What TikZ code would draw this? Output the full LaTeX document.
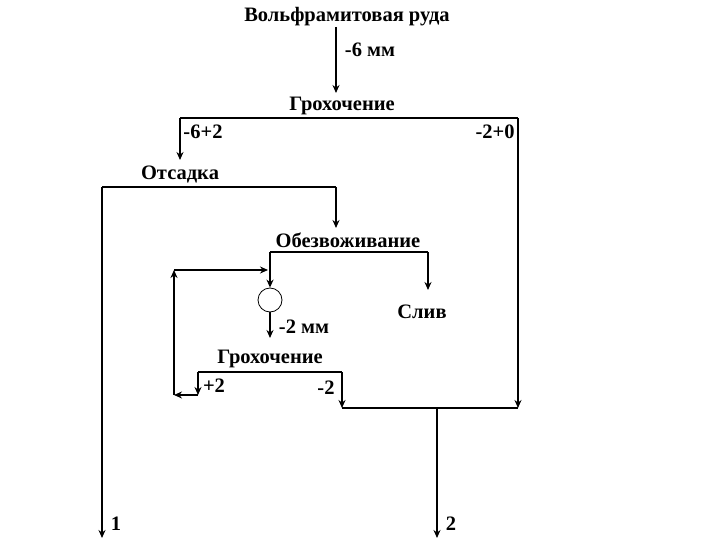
\documentclass[tikz,border=0pt]{standalone}
\usepackage{fontspec}
\setmainfont{Liberation Serif}
\usetikzlibrary{arrows.meta}
\begin{document}
\begin{tikzpicture}[x=1pt,y=-1pt,
  lbl/.style={font=\bfseries\fontsize{20.5}{23}\selectfont,inner sep=0},
  ln/.style={line width=1.5pt},
  ar/.style={ln,-{Stealth[length=8pt,width=7pt]}}]
\useasboundingbox (0,0) rectangle (720,540);
\node[lbl] (ore) at (347,17) {Вольфрамитовая руда};
\node[lbl] (s1) at (342,106) {Грохочение};
\node[lbl] (jig) at (180,174) {Отсадка};
\node[lbl] (dew) at (348,240) {Обезвоживание};
\node[lbl] (sliv) at (422,312) {Слив};
\node[lbl] (s2) at (270,359) {Грохочение};
\node[draw,circle,minimum size=24pt,inner sep=0,line width=0.8pt] (c) at (270,300) {};
\node[lbl] at (370,50) {-6 мм};
\node[lbl] at (203,132) {-6+2};
\node[lbl] at (495,132) {-2+0};
\node[lbl] at (304,327) {-2 мм};
\node[lbl] at (214,386) {+2};
\node[lbl] at (326,388) {-2};
\node[lbl] (o1) at (116,524) {1};
\node[lbl] (o2) at (451,524) {2};
\coordinate (e1) at (102,538);
\coordinate (e2) at (437,538);
\coordinate (j) at (437,408);
\draw[ar] (336,27) -- (336,93);
\draw[ln] (180,118) -- (518,118);
\draw[ar] (180,118) -- (180,160);
\draw[ar] (518,118) -- (518,408);
\draw[ln] (102,187) -- (336,187);
\draw[ar] (336,187) -- (336,228);
\draw[ar] (102,187) -- (e1);
\draw[ln] (270,252) -- (428,252);
\draw[ar] (428,252) -- (428,290);
\draw[ar] (270,252) -- (c.north);
\draw[ar] (c.south) -- (270,338);
\draw[ln] (198,372) -- (342,372);
\draw[ar] (198,372) -- (198,395);
\draw[ar] (342,372) -- (342,408);
\draw[ar] (198,395) -- (174,395);
\draw[ar] (174,395) -- (174,270);
\draw[ar] (174,270) -- (268,270);
\draw[ln] (342,408) -- (518,408);
\draw[ar] (j) -- (e2);
\end{tikzpicture}
\end{document}
